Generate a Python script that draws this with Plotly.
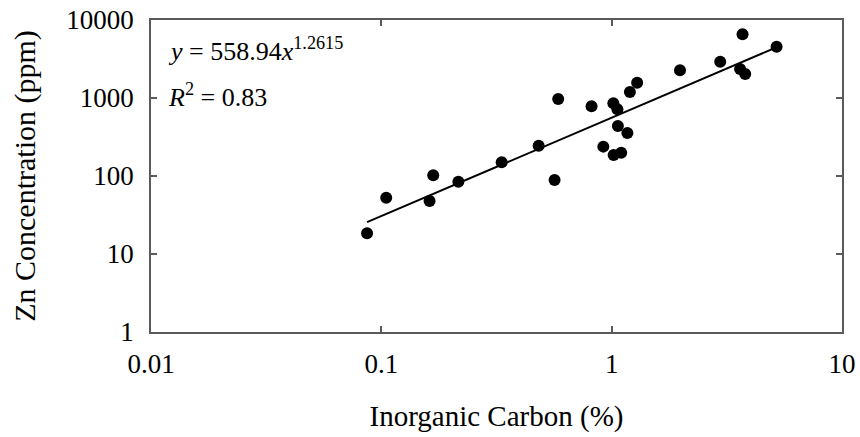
import plotly.graph_objects as go

# Data
inorganic_carbon = [0.0867, 0.105, 0.162, 0.168, 0.216, 0.333, 0.482, 0.565, 0.586, 0.818,
                    0.92, 1.017, 1.02, 1.059, 1.064, 1.10, 1.17, 1.20, 1.29, 1.98,
                    2.96, 3.61, 3.70, 3.80, 5.20]
zn_ppm = [18.4, 52.7, 47.8, 102, 84.5, 150, 245, 89, 971, 782,
          238, 855, 186, 716, 437, 199, 356, 1194, 1571, 2265,
          2918, 2354, 6560, 2032, 4550]

# Power-law fit reported on the chart
fit_a = 558.94
fit_b = 1.2615
r_squared = 0.83

x_ticks = [0.01, 0.1, 1, 10]
x_ticktext = ["0.01", "0.1", "1", "10"]
y_ticks = [1, 10, 100, 1000, 10000]
y_ticktext = ["1", "10", "100", "1000", "10000"]

fit_x = [min(inorganic_carbon), max(inorganic_carbon)]
fit_y = [fit_a * v ** fit_b for v in fit_x]

FONT = "Liberation Serif"
AX = "#5a5a5a"

fig = go.Figure()
fig.add_trace(go.Scatter(x=fit_x, y=fit_y, mode="lines",
                         line=dict(color="black", width=2), showlegend=False))
fig.add_trace(go.Scatter(x=inorganic_carbon, y=zn_ppm, mode="markers",
                         marker=dict(color="black", size=12), showlegend=False))

fig.add_annotation(xref="paper", yref="paper", x=0.022, y=0.905, xanchor="left", yanchor="middle",
                   text=f"<i>y</i> = {fit_a}<i>x</i><sup>{fit_b}</sup>", showarrow=False,
                   font=dict(family=FONT, size=26, color="black"))
fig.add_annotation(xref="paper", yref="paper", x=0.022, y=0.758, xanchor="left", yanchor="middle",
                   text=f"<i>R</i><sup>2</sup> = {r_squared}", showarrow=False,
                   font=dict(family=FONT, size=26, color="black"))

axis_common = dict(type="log", showline=True, linecolor=AX, linewidth=1.5, mirror="ticks",
                   ticks="inside", ticklen=6, tickcolor=AX, tickwidth=1.5,
                   showgrid=False, zeroline=False,
                   tickfont=dict(family=FONT, size=27, color="black"))

fig.update_xaxes(range=[-2, 1], tickvals=x_ticks, ticktext=x_ticktext,
                 title=dict(text="Inorganic Carbon (%)", font=dict(family=FONT, size=29, color="black"),
                            standoff=28),
                 ticklabelstandoff=7, **axis_common)
fig.update_yaxes(range=[0, 4], tickvals=y_ticks, ticktext=y_ticktext,
                 title=dict(text="Zn Concentration (ppm)", font=dict(family=FONT, size=30, color="black"),
                            standoff=22),
                 ticklabelstandoff=10, **axis_common)

fig.update_layout(width=860, height=437, margin=dict(l=151, r=18, t=20, b=105, autoexpand=False),
                  plot_bgcolor="white", paper_bgcolor="white", font=dict(family=FONT))

fig.write_html("out.html", config={"displayModeBar": False},
               post_script="document.body.style.margin='0';")
